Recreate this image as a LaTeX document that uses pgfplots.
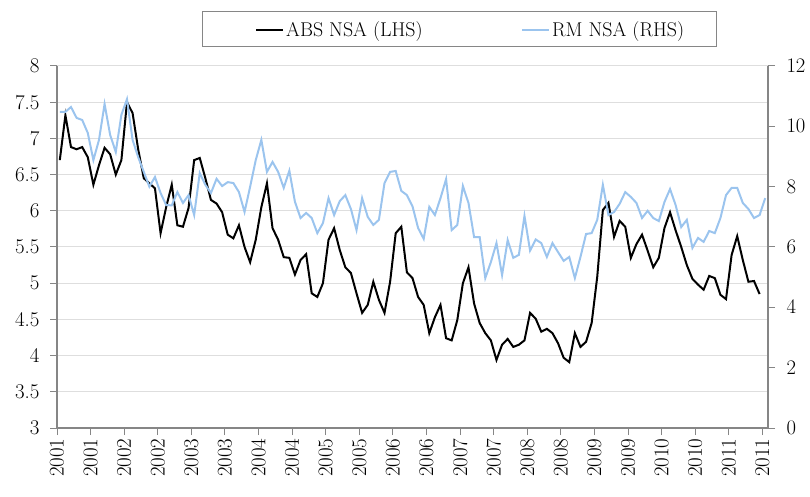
\documentclass[border=0pt]{standalone}
\usepackage{pgfplots}
\pgfplotsset{compat=1.18}
\usepackage{pgfplotstable}
\definecolor{rmblue}{RGB}{155,196,238}
\definecolor{axgray}{RGB}{134,134,134}
\definecolor{gridgray}{RGB}{222,222,222}

\pgfplotstableread{
i v
0 6.70
1 7.32
2 6.88
3 6.85
4 6.88
5 6.74
6 6.36
7 6.63
8 6.87
9 6.78
10 6.50
11 6.70
12 7.50
13 7.35
14 6.85
15 6.45
16 6.38
17 6.31
18 5.69
19 6.05
20 6.36
21 5.80
22 5.78
23 6.04
24 6.70
25 6.73
26 6.45
27 6.15
28 6.10
29 5.98
30 5.67
31 5.62
32 5.80
33 5.50
34 5.29
35 5.60
36 6.05
37 6.38
38 5.76
39 5.60
40 5.36
41 5.35
42 5.12
43 5.32
44 5.40
45 4.86
46 4.81
47 5.00
48 5.60
49 5.76
50 5.46
51 5.22
52 5.14
53 4.86
54 4.59
55 4.70
56 5.02
57 4.77
58 4.59
59 5.02
60 5.69
61 5.78
62 5.15
63 5.07
64 4.81
65 4.70
66 4.31
67 4.53
68 4.70
69 4.24
70 4.21
71 4.49
72 5.00
73 5.22
74 4.72
75 4.45
76 4.31
77 4.21
78 3.94
79 4.15
80 4.23
81 4.12
82 4.15
83 4.21
84 4.59
85 4.51
86 4.33
87 4.37
88 4.31
89 4.17
90 3.97
91 3.91
92 4.31
93 4.12
94 4.19
95 4.45
96 5.09
97 6.01
98 6.11
99 5.64
100 5.86
101 5.78
102 5.35
103 5.54
104 5.67
105 5.45
106 5.22
107 5.35
108 5.76
109 5.98
110 5.73
111 5.50
112 5.25
113 5.06
114 4.98
115 4.91
116 5.10
117 5.07
118 4.84
119 4.78
120 5.39
121 5.65
122 5.32
123 5.02
124 5.03
125 4.85
}\absdata

\pgfplotstableread{
i v
0 10.48
1 10.48
2 10.64
3 10.28
4 10.21
5 9.78
6 8.88
7 9.55
8 10.74
9 9.71
10 9.15
11 10.38
12 10.90
13 9.55
14 8.98
15 8.49
16 8.00
17 8.32
18 7.79
19 7.39
20 7.38
21 7.82
22 7.46
23 7.72
24 7.06
25 8.45
26 8.06
27 7.79
28 8.26
29 8.02
30 8.15
31 8.12
32 7.82
33 7.16
34 8.00
35 8.88
36 9.55
37 8.49
38 8.82
39 8.49
40 7.96
41 8.53
42 7.50
43 6.96
44 7.13
45 6.96
46 6.46
47 6.79
48 7.62
49 7.06
50 7.52
51 7.72
52 7.26
53 6.56
54 7.62
55 7.00
56 6.73
57 6.90
58 8.12
59 8.49
60 8.52
61 7.86
62 7.72
63 7.35
64 6.63
65 6.27
66 7.33
67 7.06
68 7.62
69 8.25
70 6.56
71 6.73
72 8.02
73 7.46
74 6.33
75 6.33
76 4.97
77 5.50
78 6.13
79 5.07
80 6.23
81 5.64
82 5.74
83 7.03
84 5.88
85 6.25
86 6.13
87 5.67
88 6.13
89 5.83
90 5.54
91 5.67
92 4.97
93 5.67
94 6.43
95 6.46
96 6.90
97 8.06
98 7.06
99 7.16
100 7.43
101 7.82
102 7.66
103 7.46
104 6.96
105 7.20
106 6.96
107 6.86
108 7.49
109 7.92
110 7.39
111 6.66
112 6.90
113 5.97
114 6.30
115 6.17
116 6.53
117 6.46
118 6.96
119 7.72
120 7.96
121 7.96
122 7.46
123 7.26
124 6.96
125 7.06
126 7.62
}\rmdata

\pgfplotsset{
  common/.style={
    scale only axis, width=711bp, height=362bp,
    at={(0,0)}, anchor=south west,
    xmin=-0.5, xmax=126.5,
    tick label style={font=\fontsize{21}{25}\selectfont},
    axis line style={axgray, line width=1.2bp, -},
    tick style={axgray, line width=1bp},
    major tick length=7bp,
    tick align=outside,
  }
}

\begin{document}
\begin{tikzpicture}
\useasboundingbox (-57bp,-69bp) rectangle (753bp,428bp);
\begin{axis}[common,
  ymin=3, ymax=8,
  ytick={3,3.5,4,4.5,5,5.5,6,6.5,7,7.5,8},
  yticklabels={3,3.5,4,4.5,5,5.5,6,6.5,7,7.5,8},
  yticklabel style={xshift=-7bp},
  axis x line*=bottom, axis y line*=left,
  ymajorgrids, grid style={gridgray, line width=1bp},
  xtick={-0.5,5.5,11.5,17.5,23.5,29.5,35.5,41.5,47.5,53.5,59.5,65.5,71.5,77.5,83.5,89.5,95.5,101.5,107.5,113.5,119.5,125.5},
  xticklabels={2001,2001,2002,2002,2003,2003,2004,2004,2005,2005,2006,2006,2007,2007,2008,2008,2009,2009,2010,2010,2011,2011},
  xticklabel style={rotate=90, anchor=east},
]
\addplot[black, line width=2bp] table[x=i, y=v]{\absdata};
\end{axis}
\begin{axis}[common,
  ymin=0, ymax=12,
  ytick={0,2,4,6,8,10,12},
  yticklabel style={xshift=8bp},
  axis y line*=right, axis x line=none,
  legend columns=2,
  legend style={draw=none, fill=none, at={(0.2785,1.1008)}, anchor=west,
    inner xsep=0pt, font=\fontsize{20}{24}\selectfont,
    /tikz/every even column/.append style={column sep=90bp}},
  legend image code/.code={\draw[#1] (0bp,0bp) -- (27bp,0bp);},
]
\addlegendimage{black, line width=2bp}
\addlegendentry{\makebox[143bp][l]{ABS NSA (LHS)}}
\addplot[rmblue, line width=2bp] table[x=i, y=v]{\rmdata};
\addlegendentry{RM NSA (RHS)}
\end{axis}
\draw[axgray, line width=1bp] (145bp,381bp) rectangle (659bp,416bp);
\end{tikzpicture}
\end{document}
